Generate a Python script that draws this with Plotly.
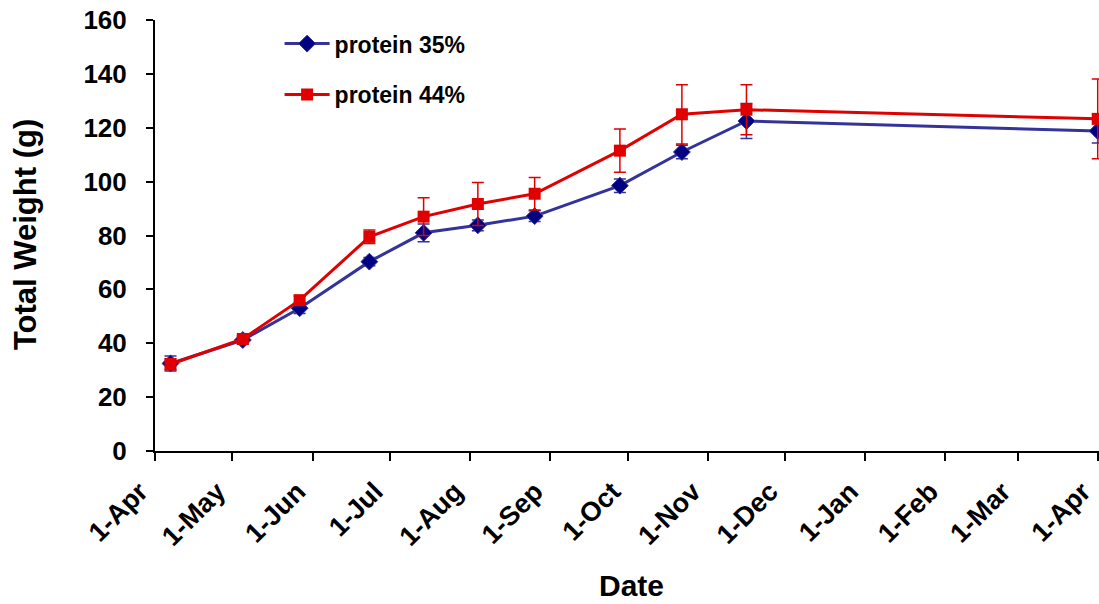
import plotly.graph_objects as go

# Data
dates = ["2009-04-07", "2009-05-05", "2009-05-27", "2009-06-23", "2009-07-14",
         "2009-08-04", "2009-08-26", "2009-09-28", "2009-10-22", "2009-11-16",
         "2010-04-01"]
protein35 = [32.5, 41.2, 53.0, 70.3, 81.0, 83.8, 87.2, 98.5, 111.0, 122.5, 118.8]
protein35_err = [2.8, 1.5, 2.0, 1.5, 3.3, 2.0, 2.0, 2.5, 2.5, 6.5, 4.5]
protein44 = [32.2, 41.6, 56.0, 79.5, 87.0, 91.7, 95.5, 111.5, 125.0, 126.7, 123.3]
protein44_err = [2.0, 1.0, 1.5, 2.5, 7.0, 8.0, 6.0, 8.0, 11.0, 9.3, 14.8]

FONT = "Arial, Liberation Sans, sans-serif"
BLUE_LINE = "#333399"
BLUE_MARK = "#000080"
RED = "#e00000"

fig = go.Figure()
fig.add_trace(go.Scatter(
    x=dates, y=protein35, name="protein 35%", mode="lines+markers",
    line=dict(color=BLUE_LINE, width=3),
    marker=dict(symbol="diamond", size=13, color=BLUE_MARK,
                line=dict(color=BLUE_LINE, width=1)),
    error_y=dict(type="data", array=protein35_err, visible=True,
                 color=BLUE_LINE, thickness=1.5, width=6),
    legendgroup="a", cliponaxis=False,
))
fig.add_trace(go.Scatter(
    x=dates, y=protein44, name="protein 44%", mode="lines+markers",
    line=dict(color=RED, width=3),
    marker=dict(symbol="square", size=12, color=RED),
    error_y=dict(type="data", array=protein44_err, visible=True,
                 color=RED, thickness=1.5, width=6),
    legendgroup="b", cliponaxis=False,
))

fig.update_layout(
    width=1099, height=604,
    margin=dict(l=155, r=0, t=20, b=153, autoexpand=False),
    paper_bgcolor="white", plot_bgcolor="white",
    font=dict(family=FONT, color="black", weight="bold"),
    showlegend=True,
    legend=dict(x=0.132, y=0.995, xanchor="left", yanchor="top",
                font=dict(size=23, family=FONT, weight="bold"),
                tracegroupgap=18, traceorder="grouped", itemwidth=45,
                bgcolor="rgba(0,0,0,0)"),
    xaxis=dict(
        type="date", range=["2009-04-01", "2010-04-01 12:00"],
        tick0="2009-04-01", dtick="M1", tickformat="%-d-%b",
        tickangle=-45, ticks="outside", ticklen=8, tickwidth=2,
        tickcolor="black", showline=True, linecolor="black", linewidth=2,
        showgrid=False, zeroline=False, ticklabelstandoff=4,
        ticklabelshift=-15, ticklabeloverflow="allow",
        tickfont=dict(size=27, family=FONT, weight="bold"),
    ),
    yaxis=dict(
        range=[0, 160], tick0=0, dtick=20,
        ticks="outside", ticklen=7, tickwidth=2, tickcolor="black",
        showline=True, linecolor="black", linewidth=2,
        showgrid=False, zeroline=False, ticklabelstandoff=14,
        tickfont=dict(size=26, family=FONT, weight="bold"),
    ),
    annotations=[
        dict(text="Date", xref="paper", yref="paper", x=0.505, y=-0.313,
             xanchor="center", yanchor="middle", showarrow=False,
             font=dict(size=30, family=FONT, weight="bold")),
        dict(text="Total Weight (g)", xref="paper", yref="paper",
             x=-0.1377, y=0.501, xanchor="center", yanchor="middle",
             textangle=-90, showarrow=False,
             font=dict(size=31, family=FONT, weight="bold")),
    ],
)

fig.write_html("out.html")
